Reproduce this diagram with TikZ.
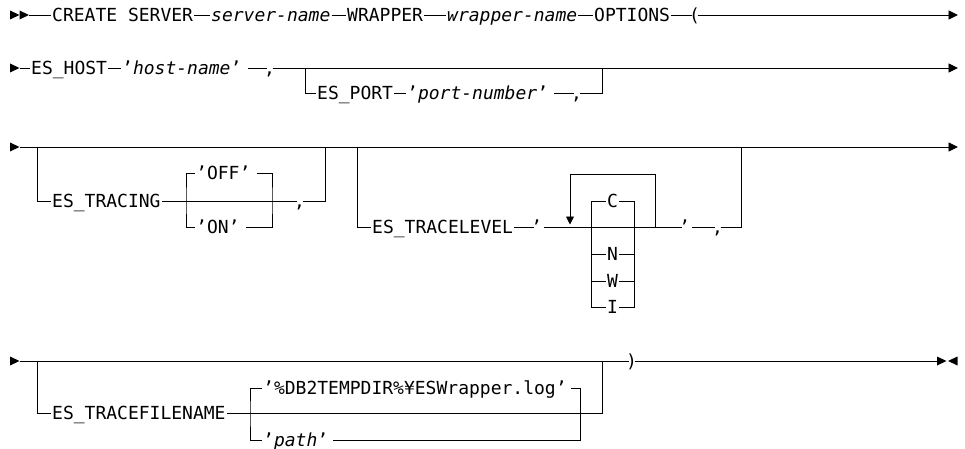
\documentclass[tikz,border=0pt]{standalone}
\usepackage{fontspec}
\usetikzlibrary{arrows.meta}
\newfontfamily\railfont{DejaVu Sans Mono}[ItalicFont={DejaVu Sans Mono Oblique}]
\begin{document}
\begin{tikzpicture}[x=1pt,y=-1pt]
\tikzset{
  kw/.style={font=\railfont\fontsize{18}{20}\selectfont, inner xsep=1pt, inner ysep=0pt,
             text height=13.1pt, text depth=0pt, anchor=west, text=black},
  var/.style={kw, font=\railfont\fontsize{18}{20}\selectfont\itshape},
  punct/.style={kw, inner xsep=-2.5pt},
  rail/.style={draw=black, line width=0.9pt},
  tip/.style={-{Triangle[length=9.5pt,width=9pt]}},
  looptip/.style={-{Triangle[length=8pt,width=8pt]}},
  headR/.pic={\fill[black] (0,-4.5) -- (9.5,0) -- (0,4.5) -- cycle;},
  headL/.pic={\fill[black] (0,-4.5) -- (-9.5,0) -- (0,4.5) -- cycle;}
}
\useasboundingbox (0,0) rectangle (965,449);

% ---- line 1: CREATE SERVER ... OPTIONS (
\pic at (10,15) {headR};
\pic at (19.5,15) {headR};
\coordinate (s1) at (29,15);
\node[kw]    (cs) at (51,15)    {CREATE SERVER};
\node[var]   (sn) at (210,15)   {server-name};
\node[kw]    (wr) at (346,15)   {WRAPPER};
\node[var]   (wn) at (446,15)   {wrapper-name};
\node[kw]    (op) at (593,15)   {OPTIONS};
\node[punct] (lp) at (691.5,15) {(};
\coordinate (e1) at (958,15);
\draw[rail] (s1) -- (cs.west) (cs.east) -- (sn.west) (sn.east) -- (wr.west)
            (wr.east) -- (wn.west) (wn.east) -- (op.west) (op.east) -- (lp.west);
\draw[rail,tip] (lp.east) -- (e1);

% ---- line 2: ES_HOST, optional ES_PORT
\pic at (10,68) {headR};
\coordinate (s2) at (19.5,68);
\node[kw]    (eh) at (30,68)    {ES\_HOST};
\node[kw]    (hn) at (121,68)   {’\textit{host-name}’};
\node[punct] (c1) at (266.5,68) {,};
\coordinate (e2) at (958,68);
\coordinate (b2a) at (305,68);
\coordinate (b2b) at (602,68);
\draw[rail] (s2) -- (eh.west) (eh.east) -- (hn.west) ([xshift=5pt]hn.east) -- (c1.west);
\draw[rail,tip] (c1.east) -- (e2);
\node[kw]    (ep) at (316,93)   {ES\_PORT};
\node[kw]    (pn) at (406,93)   {’\textit{port-number}’};
\node[punct] (c2) at (573.5,93) {,};
\draw[rail] (b2a) |- (ep.west);
\draw[rail] (ep.east) -- (pn.west) ([xshift=5pt]pn.east) -- (c2.west) (c2.east) -| (b2b);

% ---- line 3: ES_TRACING and ES_TRACELEVEL
\pic at (10,147) {headR};
\coordinate (s3) at (19.5,147);
\coordinate (e3) at (958,147);
\draw[rail,tip] (s3) -- (e3);
\coordinate (b3a) at (37,147);
\coordinate (b3b) at (325,147);
\coordinate (b3c) at (357,147);
\coordinate (b3d) at (741,147);

\node[kw]    (et)  at (51,201)    {ES\_TRACING};
\node[kw]    (off) at (195,173)   {’OFF’};
\node[kw]    (on)  at (195,227)   {’ON’};
\node[punct] (c3)  at (296.5,201) {,};
\coordinate (o1) at (186,201);
\coordinate (o2) at (272,201);
\draw[rail] (b3a) |- (et.west);
\draw[rail] (et.east) -- (c3.west);
\draw[rail] (off.west) -| (o1) |- (on.west);
\draw[rail] ([xshift=5pt]off.east) -| (o2) |- ([xshift=5pt]on.east);
\draw[rail] (c3.east) -| (b3b);

\node[kw]    (etl) at (371,227)   {ES\_TRACELEVEL};
\node[punct] (q1)  at (533.5,227) {’};
\node[punct] (q2)  at (681.5,227) {’};
\node[punct] (c4)  at (714.5,227) {,};
\draw[rail] (b3c) |- (etl.west) (etl.east) -- (q1.west);
\draw[rail] ([xshift=4pt]q1.east) -- (q2.west);
\draw[rail] ([xshift=4pt]q2.east) -- (c4.west) (c4.east) -| (b3d);
% repeat loop
\coordinate (rin)  at (655,227);
\coordinate (rtop) at (570,174);
\coordinate (rtip) at (570,224.5);
\draw[rail,looptip] (rin) |- (rtop) -- (rtip);
% level choices
\node[kw,anchor=center] (lc) at (612.5,201) {C};
\node[kw,anchor=center] (ln) at (612.5,254) {N};
\node[kw,anchor=center] (lw) at (612.5,281) {W};
\node[kw,anchor=center] (li) at (612.5,307) {I};
\coordinate (cl) at (591,201);
\coordinate (cr) at (634,201);
\coordinate (il) at (591,307);
\coordinate (ir) at (634,307);
\draw[rail] (lc.west) -- (cl) -- (il) -- (li.west);
\draw[rail] (lc.east) -- (cr) -- (ir) -- (li.east);
\draw[rail] (ln.west) -- (ln.west -| cl) (ln.east) -- (ln.east -| cr);
\draw[rail] (lw.west) -- (lw.west -| cl) (lw.east) -- (lw.east -| cr);

% ---- line 4: ES_TRACEFILENAME and closing )
\pic at (10,361) {headR};
\coordinate (s4) at (19.5,361);
\node[punct] (rp) at (628.5,361) {)};
\coordinate (e4) at (937,361);
\draw[rail] (s4) -- (rp.west) (rp.east) -- (e4);
\pic at (937,361) {headR};
\pic at (957.5,361) {headL};
\coordinate (b4a) at (37,361);
\coordinate (b4b) at (602,361);

\node[kw] (ef)   at (51,413)  {ES\_TRACEFILENAME};
\node[kw] (dflt) at (262,388) {’\%DB2TEMPDIR\%¥ESWrapper.log’};
\node[kw] (pth)  at (262,440) {’\textit{path}’};
\coordinate (f1) at (250,413);
\coordinate (f2) at (580,413);
\draw[rail] (b4a) |- (ef.west);
\draw[rail] (ef.east) -| (b4b);
\draw[rail] (dflt.west) -| (f1) |- (pth.west);
\draw[rail] ([xshift=3pt]dflt.east) -| (f2) |- ([xshift=4pt]pth.east);
\end{tikzpicture}
\end{document}
